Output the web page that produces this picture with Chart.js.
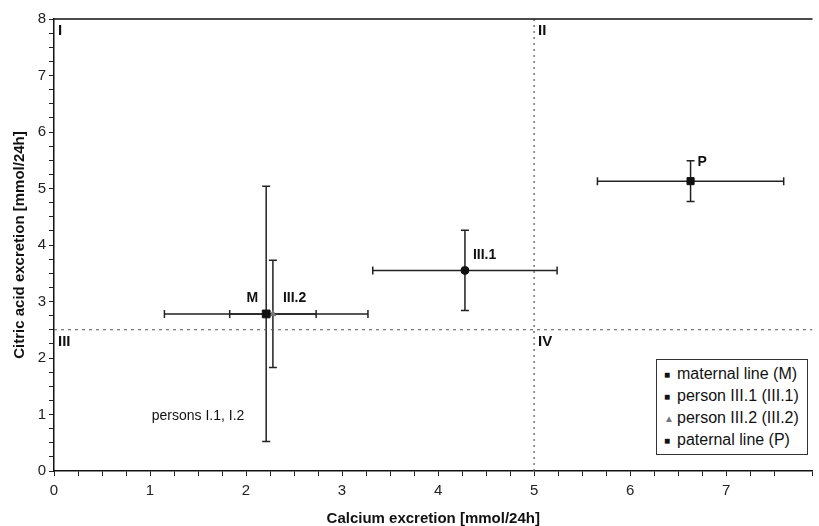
<!DOCTYPE html>
<html>
<head>
<meta charset="utf-8">
<script src="https://cdn.jsdelivr.net/npm/chart.js@4/dist/chart.umd.min.js"></script>
<style>
    html, body { margin: 0; padding: 0; background: #fff; }
    #wrap { position: relative; width: 819px; height: 526px; }
    #legend {
        position: absolute; left: 656px; top: 359px;
        border: 1px solid #333; background: #fff;
        padding: 3px 8px 3px 7px;
        font: 16px 'Liberation Sans', Arial, sans-serif; color: #111;
        line-height: 21px; white-space: nowrap;
    }
    #legend .mk { display: inline-block; width: 13px; font-size: 10px; vertical-align: 1px; }
</style>
</head>
<body>
<div id="wrap">
    <canvas id="chart"></canvas>
    <div id="legend"></div>
</div>
<script>
// 数据
const seriesNames = ['maternal line (M)', 'person III.1 (III.1)', 'person III.2 (III.2)', 'paternal line (P)'];
const pointLabels = ['M', 'III.1', 'III.2', 'P'];
const calcium = [2.21, 4.28, 2.28, 6.63];
const calciumErr = [1.06, 0.96, 0.45, 0.97];
const citrate = [2.78, 3.55, 2.78, 5.13];
const citrateErr = [2.26, 0.71, 0.95, 0.36];

const xTickLabels = [0, 1, 2, 3, 4, 5, 6, 7];
const yTickLabels = [0, 1, 2, 3, 4, 5, 6, 7, 8];
const xMin = 0, xMax = 7.9;
const yMin = 0, yMax = 8;

// 象限分割线
const splitCalcium = 5;
const splitCitrate = 2.5;
const quadrantLabels = ['I', 'II', 'III', 'IV'];

// 注释
const noteText = 'persons I.1, I.2';
const noteCalcium = 1.5;
const noteCitrate = 0.97;

// 样式
const FONT = "'Liberation Sans', Arial, sans-serif";
const markerStyles = [
    { shape: 'rect', radius: 5.5, color: '#111' },
    { shape: 'circle', radius: 4, color: '#111' },
    { shape: 'triangle', radius: 3.5, color: '#777' },
    { shape: 'rect', radius: 5, color: '#111' }
];
const legendGlyphs = ['■', '■', '▲', '■'];
const labelPlacement = [
    { align: 'right', dx: -8, dy: -16 },
    { align: 'left', dx: 8, dy: -15 },
    { align: 'left', dx: 10, dy: -16 },
    { align: 'left', dx: 7, dy: -19 }
];

// 误差线
const errorBarPlugin = {
    id: 'errorBars',
    beforeDatasetsDraw(chart) {
        const { ctx, scales: { x, y } } = chart;
        const cap = 4;
        ctx.save();
        ctx.strokeStyle = '#222';
        ctx.lineWidth = 1.5;
        calcium.forEach((cx, i) => {
            const px = x.getPixelForValue(cx);
            const py = y.getPixelForValue(citrate[i]);
            const x0 = x.getPixelForValue(cx - calciumErr[i]);
            const x1 = x.getPixelForValue(cx + calciumErr[i]);
            const y0 = y.getPixelForValue(citrate[i] - citrateErr[i]);
            const y1 = y.getPixelForValue(citrate[i] + citrateErr[i]);
            ctx.beginPath();
            ctx.moveTo(x0, py); ctx.lineTo(x1, py);
            ctx.moveTo(x0, py - cap); ctx.lineTo(x0, py + cap);
            ctx.moveTo(x1, py - cap); ctx.lineTo(x1, py + cap);
            ctx.moveTo(px, y0); ctx.lineTo(px, y1);
            ctx.moveTo(px - cap, y0); ctx.lineTo(px + cap, y0);
            ctx.moveTo(px - cap, y1); ctx.lineTo(px + cap, y1);
            ctx.stroke();
        });
        ctx.restore();
    }
};

// 文字标注、象限编号、顶部边框
const annotationPlugin = {
    id: 'annotations',
    afterDatasetsDraw(chart) {
        const { ctx, chartArea, scales: { x, y } } = chart;
        ctx.save();
        // 顶部边框
        ctx.strokeStyle = '#111';
        ctx.lineWidth = 1.5;
        ctx.beginPath();
        ctx.moveTo(chartArea.left, chartArea.top);
        ctx.lineTo(chartArea.right, chartArea.top);
        ctx.stroke();

        ctx.fillStyle = '#111';
        ctx.textBaseline = 'middle';
        // 点标签
        ctx.font = 'bold 14px ' + FONT;
        pointLabels.forEach((t, i) => {
            const p = labelPlacement[i];
            ctx.textAlign = p.align;
            ctx.fillText(t, x.getPixelForValue(calcium[i]) + p.dx, y.getPixelForValue(citrate[i]) + p.dy);
        });
        // 象限编号
        ctx.font = 'bold 15px ' + FONT;
        ctx.textAlign = 'left';
        const qx = [xMin, splitCalcium, xMin, splitCalcium];
        const qy = [yMax, yMax, splitCitrate, splitCitrate];
        quadrantLabels.forEach((t, i) => {
            ctx.fillText(t, x.getPixelForValue(qx[i]) + 4, y.getPixelForValue(qy[i]) + 12);
        });
        // 注释
        ctx.font = '14px ' + FONT;
        ctx.textAlign = 'center';
        ctx.fillText(noteText, x.getPixelForValue(noteCalcium), y.getPixelForValue(noteCitrate));
        ctx.restore();
    }
};

const pointDatasets = seriesNames.map((name, i) => ({
    type: 'scatter',
    label: name,
    data: [{ x: calcium[i], y: citrate[i] }],
    pointStyle: markerStyles[i].shape,
    pointRadius: markerStyles[i].radius,
    pointBackgroundColor: markerStyles[i].color,
    pointBorderColor: markerStyles[i].color,
    pointBorderWidth: 1
}));

const splitDatasets = [
    { data: [{ x: splitCalcium, y: yMin }, { x: splitCalcium, y: yMax }], dash: [2, 4] },
    { data: [{ x: xMin, y: splitCitrate }, { x: xMax, y: splitCitrate }], dash: [3, 4] }
].map(d => ({
    type: 'line',
    label: '',
    data: d.data,
    borderColor: '#555',
    borderWidth: 1.2,
    borderDash: d.dash,
    pointRadius: 0,
    fill: false
}));

const tickFont = { family: FONT, size: 15 };
const titleFont = { family: FONT, size: 15, weight: 'bold' };

new Chart(document.getElementById('chart'), {
    data: { datasets: [...splitDatasets, ...pointDatasets] },
    options: {
        responsive: true,
        maintainAspectRatio: false,
        animation: false,
        layout: { padding: { top: 19, right: 0, left: 0, bottom: 0 } },
        plugins: { legend: { display: false }, tooltip: { enabled: false } },
        scales: {
            x: {
                type: 'linear', min: xMin, max: xMax,
                afterFit(scale) { scale.height = 55; },
                ticks: {
                    stepSize: 0.25, autoSkip: false, maxRotation: 0, padding: 6,
                    color: '#222', font: tickFont,
                    callback: v => xTickLabels.includes(v) ? String(v) : ''
                },
                grid: { drawOnChartArea: false, drawTicks: true, tickLength: 5, color: '#222' },
                border: { display: true, color: '#111', width: 1.5 },
                title: { display: true, text: 'Calcium excretion [mmol/24h]', color: '#111', font: { ...titleFont, lineHeight: 1 }, padding: 0 }
            },
            y: {
                type: 'linear', min: yMin, max: yMax,
                afterFit(scale) { scale.width = 54; },
                ticks: {
                    stepSize: 0.25, autoSkip: false, padding: 3,
                    color: '#222', font: tickFont,
                    callback: v => yTickLabels.includes(v) ? String(v) : ''
                },
                grid: { drawOnChartArea: false, drawTicks: true, tickLength: 5, color: '#222' },
                border: { display: true, color: '#111', width: 1.5 },
                title: { display: true, text: 'Citric acid excretion [mmol/24h]', color: '#111', font: { ...titleFont, lineHeight: 1.2 }, padding: { top: 11, bottom: 0 } }
            }
        }
    },
    plugins: [errorBarPlugin, annotationPlugin]
});

// 图例
document.getElementById('legend').innerHTML = seriesNames.map((n, i) =>
    `<div><span class="mk" style="color:${markerStyles[i].color}">${legendGlyphs[i]}</span>${n}</div>`
).join('');
</script>
</body>
</html>
